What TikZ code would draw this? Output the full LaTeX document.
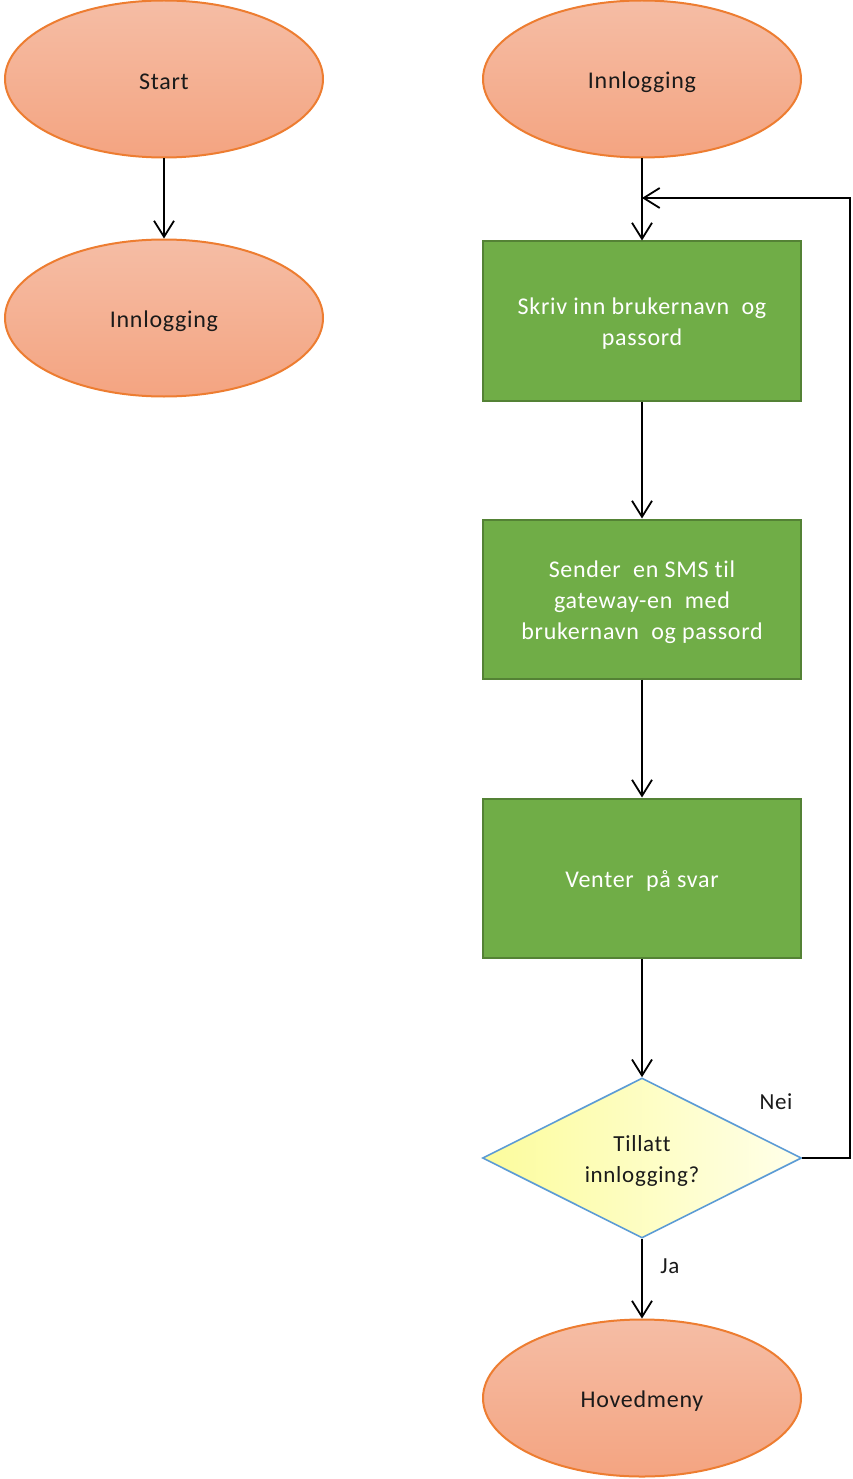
\documentclass[tikz,border=0pt]{standalone}
\usepackage{fontspec}
\setmainfont{Carlito}[Ligatures={NoCommon}, LetterSpace=3]
\usetikzlibrary{shapes.geometric,arrows.meta}
\definecolor{termtop}{HTML}{F5BDA5}
\definecolor{termbot}{HTML}{F4A481}
\definecolor{termline}{HTML}{ED7D31}
\definecolor{stepfill}{HTML}{70AD47}
\definecolor{stepline}{HTML}{548235}
\definecolor{decleft}{HTML}{FCFC9C}
\definecolor{decright}{HTML}{FFFFEA}
\definecolor{decline}{HTML}{5B9BD5}
\definecolor{inkgray}{HTML}{1A1A1A}
% lower a label visually while keeping its box size
\newcommand{\lowtext}[1]{\raisebox{-3pt}[\height][\depth]{#1}}
\tikzset{
  terminal/.style={ellipse, minimum width=318pt, minimum height=157pt, inner sep=0pt,
    draw=termline, line width=2pt, top color=termtop, bottom color=termbot,
    text=inkgray, font=\fontsize{24}{31}\selectfont},
  stepbox/.style={rectangle, minimum width=318pt, minimum height=159pt, inner sep=0pt,
    draw=stepline, line width=2pt, fill=stepfill},
  steptext/.style={text=white, align=center, font=\fontsize{24}{31}\selectfont},
  decision/.style={diamond, aspect=2, minimum width=319pt, minimum height=160pt, inner sep=0pt,
    draw=decline, line width=1.6pt, left color=decleft, right color=decright},
  decisiontext/.style={text=inkgray, align=center, font=\fontsize{23}{31}\selectfont},
  flow/.style={draw=black, line width=1.8pt, -{Straight Barb[length=16pt,width=20pt,line width=1.8pt]}},
  edgelabel/.style={text=inkgray, font=\fontsize{23}{28}\selectfont}
}
\begin{document}
\begin{tikzpicture}[x=1pt,y=-1pt]
\useasboundingbox (0,0) rectangle (852,1479);

% left column
\node[terminal] (start) at (164,79) {\lowtext{Start}};
\node[terminal] (loginA) at (164,318) {\lowtext{Innlogging}};
\draw[flow] (start.south) -- (loginA.north);

% right column
\node[terminal] (loginB) at (642,79) {\lowtext{Innlogging}};
\node[stepbox] (enter) at (642,321) {};
\node[steptext] (enterlbl) at (642,324) {Skriv inn brukernavn\ \ og\\passord};
\node[stepbox] (send) at (642,599) {};
\node[steptext] (sendlbl) at (642,602) {Sender\ \ en SMS til\\gateway-en\ \ med\\brukernavn\ \ og passord};
\node[stepbox] (wait) at (642,878) {};
\node[steptext] (waitlbl) at (642,881) {Venter\ \ på svar};
\node[decision] (check) at (642,1158) {};
\node[decisiontext] (checklbl) at (642,1161) {Tillatt\\innlogging?};
\node[terminal] (menu) at (642,1398) {\lowtext{Hovedmeny}};

\coordinate (merge) at (642,198);
\coordinate (loopdown) at (850,1158);
\coordinate (loopup) at (850,198);

\draw[line width=1.8pt] (loginB.south) -- (merge);
\draw[flow] (merge) -- (enter.north);
\draw[flow] (enter.south) -- (send.north);
\draw[flow] (send.south) -- (wait.north);
\draw[flow] (wait.south) -- (check.north);
\draw[flow] (check.south) -- (menu.north);
\draw[flow] (check.east) -- (loopdown) -- (loopup) -- (merge);

\node[edgelabel] (nei) at (776,1102) {Nei};
\node[edgelabel] (ja) at (670,1266) {Ja};
\end{tikzpicture}
\end{document}
